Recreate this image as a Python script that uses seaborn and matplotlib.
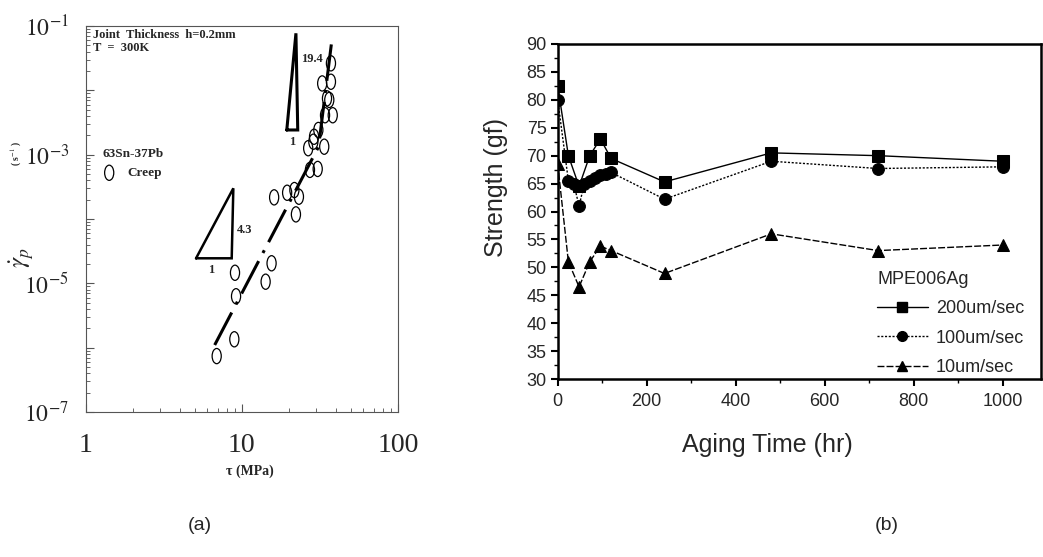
import numpy as np
import pandas as pd
import matplotlib
matplotlib.use("Agg")
import matplotlib.pyplot as plt
import seaborn as sns
from matplotlib.path import Path
from matplotlib.lines import Line2D
from matplotlib.ticker import FixedLocator, FixedFormatter, MultipleLocator, LogLocator, NullFormatter

# ---------------- Panel (a) data ----------------
tau_mpa = [6.9, 8.95, 9.18, 9.04, 14.2, 15.5, 16.1, 19.5, 21.7, 23.2, 22.2, 27.3, 30.6,
           26.6, 28.7, 30.9, 33.7, 34.1, 35.1, 36.3, 38.2, 32.7, 37.2, 37.2, 29.0]
gamma_rate = [7.4e-7, 1.35e-6, 6.3e-6, 1.46e-5, 1.06e-5, 2.05e-5, 2.17e-4, 2.56e-4, 2.82e-4,
              2.22e-4, 1.18e-4, 5.8e-4, 6.0e-4, 1.26e-3, 1.59e-3, 2.42e-3, 1.33e-3, 4.1e-3,
              7.5e-3, 7.1e-3, 4.1e-3, 1.28e-2, 1.36e-2, 2.63e-2, 1.9e-3]
tau_fit = [6.7, 31.0, 37.6]
gamma_fit = [1.1e-6, 1.33e-3, 5.7e-2]
tri_low_tau = [5.09, 8.61, 8.82, 5.09]
tri_low_gamma = [2.45e-5, 2.45e-5, 3.0e-4, 2.45e-5]
tri_high_tau = [19.4, 22.8, 22.2, 19.4]
tri_high_gamma = [2.42e-3, 2.42e-3, 7.7e-2, 2.42e-3]
a_xticks = [1, 10, 100]
a_xticklabels = ["1", "10", "100"]
a_yticks = [1e-7, 1e-6, 1e-5, 1e-4, 1e-3, 1e-2, 1e-1]
a_yticklabels = [r"$10^{-7}$", "", r"$10^{-5}$", "", r"$10^{-3}$", "", r"$10^{-1}$"]

# ---------------- Panel (b) data ----------------
speeds = ["200um/sec", "100um/sec", "10um/sec"]
time_200 = [0, 24, 48, 72, 96, 120, 240, 480, 720, 1000]
strength_200 = [82.5, 70, 64.5, 70, 73, 69.5, 65.3, 70.5, 70, 69]
time_100 = [0, 24, 36, 48, 60, 72, 84, 96, 108, 120, 240, 480, 720, 1000]
strength_100 = [80, 65.5, 65, 61, 65, 65.5, 66, 66.5, 66.8, 67, 62.2, 69, 67.7, 68]
time_10 = [0, 24, 48, 72, 96, 120, 240, 480, 720, 1000]
strength_10 = [68.5, 51, 46.5, 51, 53.8, 53, 48.9, 56, 53, 54]
b_yticks = list(range(30, 95, 5))
b_xticks = [0, 200, 400, 600, 800, 1000]

sns.set_style("white")
plt.rcParams["font.family"] = ["Liberation Sans", "DejaVu Sans"]
plt.rcParams["mathtext.fontset"] = "stix"
SERIF = ["Liberation Serif", "DejaVu Serif"]

fig = plt.figure(figsize=(10.43, 5.57), dpi=100)
W, H = 1043, 557

def box(l, t, r, b):
    return [l / W, 1 - b / H, (r - l) / W, (b - t) / H]

# ================= Panel (a) =================
axa = fig.add_axes(box(85.7, 26, 398, 412))
axa.set_xscale("log")
axa.set_yscale("log")
axa.set_xlim(1, 100)
axa.set_ylim(1e-7, 1e-1)

circ = Path.unit_circle()
ell = Path(circ.vertices * np.array([0.6, 1.0]), circ.codes)

sns.lineplot(x=tau_fit, y=gamma_fit, ax=axa, color="black", linewidth=2.2,
             dashes=False, sort=False, errorbar=None)
axa.get_lines()[-1].set_dashes((12, 3, 1, 3))
sns.scatterplot(x=tau_mpa, y=gamma_rate, ax=axa, marker=ell, s=120,
                color="none", edgecolor="black", linewidth=0.9, label="Creep", zorder=3)

axa.plot(tri_low_tau, tri_low_gamma, color="black", lw=1.8, solid_joinstyle="miter")
axa.plot(tri_high_tau, tri_high_gamma, color="black", lw=2.2, solid_joinstyle="miter")
axa.text(9.3, 6.8e-5, "4.3", fontsize=9, fontweight="bold", family=SERIF, ha="left", va="center")
axa.text(6.35, 1.6e-5, "1", fontsize=9, fontweight="bold", family=SERIF, ha="center", va="center")
axa.text(23.9, 3.1e-2, "19.4", fontsize=9, fontweight="bold", family=SERIF, ha="left", va="center")
axa.text(20.9, 1.58e-3, "1", fontsize=9, fontweight="bold", family=SERIF, ha="center", va="center")

axa.text(0.023, 0.977, "Joint  Thickness  h=0.2mm", transform=axa.transAxes, fontsize=9,
         fontweight="bold", family=SERIF, ha="left", va="center")
axa.text(0.023, 0.943, "T  =  300K", transform=axa.transAxes, fontsize=9,
         fontweight="bold", family=SERIF, ha="left", va="center")

leg_a = axa.legend(title="63Sn-37Pb", loc="upper left", bbox_to_anchor=(0.033, 0.70),
                   frameon=False, borderpad=0, handlelength=1.0, handletextpad=0.9,
                   scatterpoints=1, alignment="left",
                   prop={"family": SERIF, "weight": "bold", "size": 9.5},
                   title_fontproperties={"family": SERIF, "weight": "bold", "size": 9.5})

axa.xaxis.set_major_locator(FixedLocator(a_xticks))
axa.xaxis.set_major_formatter(FixedFormatter(a_xticklabels))
axa.xaxis.set_minor_locator(LogLocator(base=10, subs=np.arange(2, 10), numticks=20))
axa.xaxis.set_minor_formatter(NullFormatter())
axa.yaxis.set_major_locator(FixedLocator(a_yticks))
axa.yaxis.set_major_formatter(FixedFormatter(a_yticklabels))
axa.yaxis.set_minor_locator(LogLocator(base=10, subs=np.arange(2, 10), numticks=20))
axa.yaxis.set_minor_formatter(NullFormatter())
axa.tick_params(which="both", bottom=True, left=True, top=False, right=False)
axa.tick_params(which="major", direction="in", length=6, width=0.8, color="#555555")
axa.tick_params(which="minor", direction="in", length=3, width=0.7, color="#666666")
axa.tick_params(axis="x", which="major", labelsize=20, pad=15)
axa.tick_params(axis="y", which="major", labelsize=17, pad=12)
for lab in axa.get_xticklabels():
    lab.set_family(SERIF)
for sp in axa.spines.values():
    sp.set_linewidth(0.8)
    sp.set_color("#555555")

axa.set_xlabel("τ (MPa)", fontsize=10, fontweight="bold", family=SERIF)
axa.xaxis.set_label_coords(0.526, -0.135)
axa.set_ylabel(r"$\dot{\gamma}_p$", fontsize=18, rotation=90)
axa.yaxis.label.set_va("center")
axa.yaxis.set_label_coords(-0.205, 0.40)
axa.text(-0.222, 0.671, r"( s$^{-1}$ )", transform=axa.transAxes, rotation=90,
         fontsize=7, family=SERIF, fontweight="bold", ha="center", va="center")

# ================= Panel (b) =================
axb = fig.add_axes(box(557.7, 44, 1041, 379))
df_b = pd.concat([
    pd.DataFrame({"time": time_200, "strength": strength_200, "speed": speeds[0]}),
    pd.DataFrame({"time": time_100, "strength": strength_100, "speed": speeds[1]}),
    pd.DataFrame({"time": time_10, "strength": strength_10, "speed": speeds[2]}),
], ignore_index=True)
markers = {speeds[0]: "s", speeds[1]: "o", speeds[2]: "^"}
dashes = {speeds[0]: "", speeds[1]: (1.5, 1.2), speeds[2]: (5, 1.5)}
sns.lineplot(data=df_b, x="time", y="strength", hue="speed", style="speed",
             hue_order=speeds, style_order=speeds,
             palette={s: "black" for s in speeds}, markers=markers, dashes=dashes,
             markersize=8.5, linewidth=1.0, markeredgecolor="black", errorbar=None,
             ax=axb, legend=False)
axb.set_xlim(0, 1086)
axb.set_ylim(30, 90)
axb.xaxis.set_major_locator(FixedLocator(b_xticks))
axb.yaxis.set_major_locator(FixedLocator(b_yticks))
axb.xaxis.set_minor_locator(MultipleLocator(100))
axb.yaxis.set_minor_locator(MultipleLocator(2.5))
axb.tick_params(which="both", left=True, bottom=True)
axb.tick_params(which="major", direction="out", length=5, width=1.5, color="black",
                labelsize=13, pad=3)
axb.tick_params(axis="x", which="major", pad=5)
axb.tick_params(which="minor", direction="out", length=3, width=1.0, color="black")
for sp in axb.spines.values():
    sp.set_linewidth(1.8)
    sp.set_color("black")
axb.set_xlabel("Aging Time (hr)", fontsize=18)
axb.xaxis.set_label_coords(0.433, -0.16)
axb.set_ylabel("Strength (gf)", fontsize=18)
axb.yaxis.label.set_va("center")
axb.yaxis.set_label_coords(-0.128, 0.573)

handles = [Line2D([], [], color="black", lw=1.0, marker=markers[s], markersize=7,
                  dashes=(dashes[s] if dashes[s] else (None, None)))
           for s in speeds]
handles[0].set_linestyle("-")
axb.legend(handles, speeds, title="MPE006Ag", loc="upper left",
           bbox_to_anchor=(868 / W, 1 - 262 / H), bbox_transform=fig.transFigure,
           frameon=False, borderpad=0, handlelength=2.8, handletextpad=0.45,
           labelspacing=0.68, alignment="left", fontsize=13, title_fontsize=13)

fig.text(200 / W, 1 - 525 / H, "(a)", fontsize=14, ha="center", va="center")
fig.text(887 / W, 1 - 525 / H, "(b)", fontsize=14, ha="center", va="center")

fig.savefig("out.png", dpi=100)
